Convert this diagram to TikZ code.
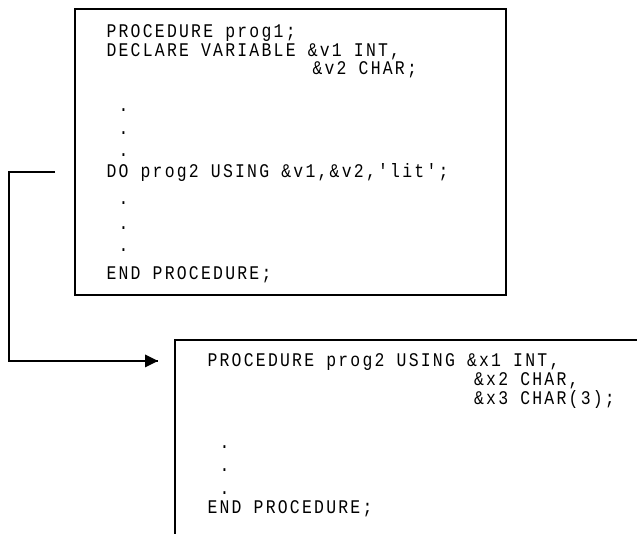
\documentclass[tikz,border=0pt]{standalone}
\usepackage{fontspec}
\usepackage{tikz}
\newfontfamily\listingfont{Liberation Mono}[FakeStretch=0.85,LetterSpace=11.6]
\tikzset{every picture/.style={line width=0.75pt}}
\tikzset{
  codeline/.style={anchor=base west, inner sep=0pt, font=\listingfont\fontsize{14.5}{17}\selectfont},
  procbox/.style={line width=1.7pt},
  calllink/.style={line width=1.2pt},
}

\begin{document}
\begin{tikzpicture}[x=0.75pt,y=0.75pt,yscale=-1,xscale=1]
\useasboundingbox (0,0) rectangle (637,534);

%Shape: Rectangle [id:prog1]
\coordinate (p1nw) at (75,9);
\coordinate (p1se) at (506,295);
\draw [procbox] (p1nw) rectangle (p1se);
%Shape: Rectangle [id:prog2] runs off the page
\coordinate (p2nw) at (175,340);
\coordinate (p2se) at (680,580);
\draw [procbox] (p2nw) rectangle (p2se);

%Straight Lines [id:call]
\coordinate (callout) at (55,172);
\coordinate (bend) at (9,172);
\coordinate (callin) at (158,361);
\draw [calllink] (callout) -- (bend) |- (callin);
\draw [shift={(callin)}, rotate=180] [fill=black][draw opacity=0] (13,-6.5) -- (0,0) -- (13,6.5) -- cycle;

% Text Node
\draw (106,38) node [codeline] (a1) {PROCEDURE prog1;};
% Text Node
\draw (106,57) node [codeline] (a2) {DECLARE VARIABLE \&v1 INT,};
% Text Node
\draw (312,75) node [codeline] (a3) {\&v2 CHAR;};
% Text Node
\draw (118.1,111.5) node [codeline] (a4) {.};
% Text Node
\draw (118.1,134.5) node [codeline] (a5) {.};
% Text Node
\draw (118.1,156.5) node [codeline] (a6) {.};
% Text Node
\draw (106,178) node [codeline] (a7) {DO prog2 USING \&v1,\&v2,'lit';};
% Text Node
\draw (118.1,204.5) node [codeline] (a8) {.};
% Text Node
\draw (118.1,229.5) node [codeline] (a9) {.};
% Text Node
\draw (118.1,251.5) node [codeline] (a10) {.};
% Text Node
\draw (106,280) node [codeline] (a11) {END PROCEDURE;};

% Text Node
\draw (207,366.5) node [codeline] (b1) {PROCEDURE prog2 USING \&x1 INT,};
% Text Node
\draw (473.6,386) node [codeline] (b2) {\&x2 CHAR,};
% Text Node
\draw (473.6,404.5) node [codeline] (b3) {\&x3 CHAR(3);};
% Text Node
\draw (219.1,448.5) node [codeline] (b4) {.};
% Text Node
\draw (219.1,471.5) node [codeline] (b5) {.};
% Text Node
\draw (219.1,494.5) node [codeline] (b6) {.};
% Text Node
\draw (207,514) node [codeline] (b7) {END PROCEDURE;};

\end{tikzpicture}
\end{document}
